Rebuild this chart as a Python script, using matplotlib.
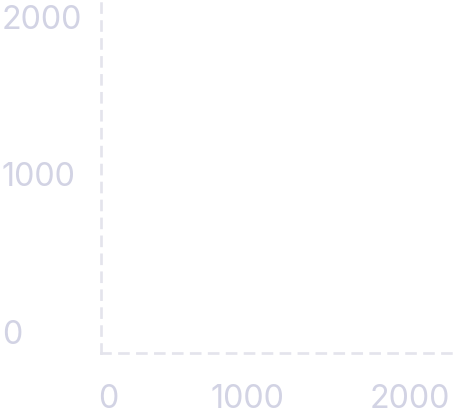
import matplotlib
matplotlib.use("Agg")
import matplotlib.pyplot as plt

x_ticks = [0, 1000, 2000]
y_ticks = [0, 1000, 2000]
x_labels = ["0", "1000", "2000"]
y_labels = ["0", "1000", "2000"]

W, H, DPI = 456, 417, 100
fig = plt.figure(figsize=(W / DPI, H / DPI), dpi=DPI)
ax = fig.add_axes([101 / W, (H - 353) / H, (W - 101) / W, 353 / H])

label_color = "#d2d3e4"
axis_color = "#e4e4ec"

ax.set_xlim(-102.4, 2036.1)
ax.set_ylim(-133.3, 2107.9)
ax.set_xticks(x_ticks)
ax.set_xticklabels(x_labels)
ax.set_yticks(y_ticks)
ax.set_yticklabels(y_labels)

for s in ["top", "right"]:
    ax.spines[s].set_visible(False)
for s in ["left", "bottom"]:
    sp = ax.spines[s]
    sp.set_color(axis_color)
    sp.set_linewidth(1.9)
    sp.set_linestyle((0, (3.4, 3.4)))

ax.tick_params(axis="both", length=0, colors=label_color, labelsize=23.3)
for t in ax.get_xticklabels() + ax.get_yticklabels():
    t.set_fontfamily(["Inter", "DejaVu Sans"])
    t.set_fontweight("normal")
    t.set_color(label_color)
for t in ax.get_xticklabels():
    t.set_horizontalalignment("right")
for t in ax.get_yticklabels():
    t.set_horizontalalignment("left")
ax.tick_params(axis="x", pad=22)
ax.tick_params(axis="y", pad=71.3)

fig.savefig("out.png", dpi=DPI)
